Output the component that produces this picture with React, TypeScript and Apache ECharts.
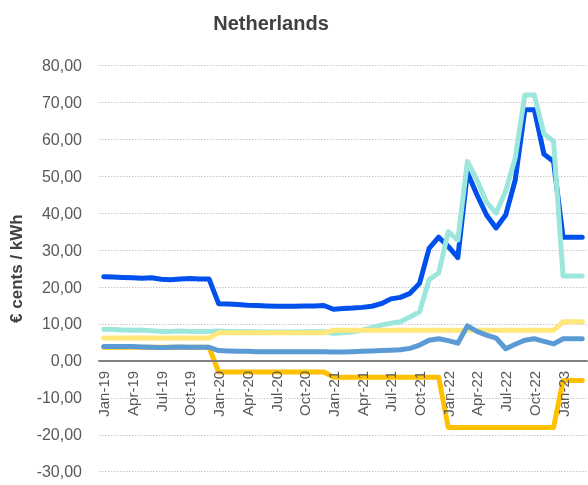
import React, { useEffect, useRef } from "react";
import * as echarts from "echarts";

const monthNames = ["Jan", "Feb", "Mar", "Apr", "May", "Jun", "Jul", "Aug", "Sep", "Oct", "Nov", "Dec"];
const years = ["19", "20", "21", "22", "23"];
const categories: string[] = [];
years.forEach((y, yi) => {
  monthNames.forEach((m, mi) => {
    if (yi < 4 || mi < 3) categories.push(`${m}-${y}`);
  });
});

const darkBlue = [
  22.8, 22.7, 22.6, 22.5, 22.4, 22.5, 22.1, 22.0, 22.2, 22.3, 22.2, 22.2,
  15.5, 15.4, 15.3, 15.1, 15.0, 14.9, 14.8, 14.8, 14.8, 14.9, 14.9, 15.0,
  14.0, 14.2, 14.3, 14.5, 14.8, 15.5, 16.8, 17.2, 18.3, 21.0, 30.5, 33.5,
  31.0, 28.0, 51.0, 45.0, 39.5, 36.0, 39.5, 49.0, 68.0, 68.0, 56.0, 54.0,
  33.5, 33.5, 33.5,
];
const cyan = [
  8.6, 8.5, 8.4, 8.3, 8.3, 8.2, 8.0, 8.0, 8.1, 8.0, 8.0, 8.0,
  8.1, 8.0, 8.0, 7.9, 7.9, 7.8, 7.8, 7.8, 7.8, 7.9, 7.9, 7.9,
  7.5, 7.6, 7.9, 8.3, 9.0, 9.7, 10.2, 10.6, 11.9, 13.3, 22.0, 23.8,
  35.0, 32.7, 54.0, 49.0, 43.0, 40.0, 46.0, 55.0, 72.0, 72.0, 61.5, 59.5,
  23.0, 23.0, 23.0,
];
const yellow = [
  6.2, 6.2, 6.2, 6.2, 6.2, 6.2, 6.2, 6.2, 6.2, 6.2, 6.2, 6.2,
  7.6, 7.6, 7.6, 7.6, 7.6, 7.6, 7.6, 7.6, 7.6, 7.6, 7.6, 7.6,
  8.3, 8.3, 8.3, 8.3, 8.3, 8.3, 8.3, 8.3, 8.3, 8.3, 8.3, 8.3,
  8.3, 8.3, 8.3, 8.3, 8.3, 8.3, 8.3, 8.3, 8.3, 8.3, 8.3, 8.3,
  10.6, 10.6, 10.6,
];
const gold = [
  3.7, 3.7, 3.7, 3.7, 3.7, 3.7, 3.7, 3.7, 3.7, 3.7, 3.7, 3.7,
  -3.0, -3.0, -3.0, -3.0, -3.0, -3.0, -3.0, -3.0, -3.0, -3.0, -3.0, -3.0,
  -4.4, -4.4, -4.4, -4.4, -4.4, -4.4, -4.4, -4.4, -4.4, -4.4, -4.4, -4.4,
  -18.0, -18.0, -18.0, -18.0, -18.0, -18.0, -18.0, -18.0, -18.0, -18.0, -18.0, -18.0,
  -5.3, -5.3, -5.3,
];
const medBlue = [
  3.9, 3.9, 3.9, 3.9, 3.8, 3.7, 3.6, 3.7, 3.8, 3.7, 3.7, 3.7,
  2.8, 2.7, 2.6, 2.6, 2.5, 2.5, 2.5, 2.5, 2.5, 2.5, 2.5, 2.5,
  2.4, 2.4, 2.5, 2.6, 2.7, 2.8, 2.9, 3.0, 3.4, 4.3, 5.6, 6.0,
  5.5, 4.8, 9.5, 8.0, 7.0, 6.2, 3.3, 4.5, 5.6, 6.0, 5.3, 4.6,
  6.0, 6.0, 6.0,
];

const seriesList = [
  { name: "A", data: darkBlue, color: "#0050EC" },
  { name: "B", data: cyan, color: "#9DE6DC" },
  { name: "C", data: yellow, color: "#FFE77A" },
  { name: "D", data: gold, color: "#FFC000" },
  { name: "E", data: medBlue, color: "#5B9BD5" },
];

const Y_MIN = -30;
const Y_MAX = 80;
const GRID_TOP = 65.5;
const GRID_BOTTOM = 13.3;
const CHART_H = 485;

export default function App() {
  const ref = useRef<HTMLDivElement>(null);
  useEffect(() => {
    if (!ref.current) return;
    const chart = echarts.init(ref.current, null, { renderer: "svg" });
    const plotH = CHART_H - GRID_TOP - GRID_BOTTOM;
    const zeroOffset = -((0 - Y_MIN) / (Y_MAX - Y_MIN)) * plotH;
    chart.setOption({
      animation: false,
      title: {
        text: "Netherlands",
        left: 266,
        top: 8,
        textAlign: "center",
        textStyle: { fontFamily: "Liberation Sans", fontSize: 20, fontWeight: "bold", color: "#404040" },
      },
      grid: { left: 97, right: 1, top: GRID_TOP, bottom: GRID_BOTTOM },
      xAxis: {
        type: "category",
        data: categories,
        boundaryGap: true,
        offset: zeroOffset,
        z: 5,
        axisLine: { onZero: false, lineStyle: { color: "#808080", width: 2 } },
        axisTick: { show: false },
        axisLabel: {
          interval: 2,
          rotate: 90,
          margin: 10,
          fontFamily: "Liberation Sans",
          fontSize: 15,
          color: "#595959",
        },
        splitLine: { show: false },
      },
      yAxis: {
        type: "value",
        min: Y_MIN,
        max: Y_MAX,
        interval: 10,
        name: "€ cents / kWh",
        nameLocation: "middle",
        nameGap: 74,
        nameTextStyle: { fontFamily: "Liberation Sans", fontSize: 17, fontWeight: "bold", color: "#404040" },
        axisLine: { show: false },
        axisTick: { show: false },
        axisLabel: {
          margin: 17,
          fontFamily: "Liberation Sans",
          fontSize: 16,
          color: "#595959",
          formatter: (v: number) => v.toFixed(2).replace(".", ","),
        },
        splitLine: { lineStyle: { color: "#c8c8c8", type: [1.5, 1.5], width: 1 } },
      },
      series: seriesList.map((s) => ({
        name: s.name,
        type: "line",
        data: s.data,
        symbol: "none",
        lineStyle: { color: s.color, width: 5, cap: "round", join: "round" },
        itemStyle: { color: s.color },
      })),
    });
    return () => chart.dispose();
  }, []);
  return <div ref={ref} style={{ position: "fixed", left: 0, top: 0, width: 588, height: 485 }} />;
}
